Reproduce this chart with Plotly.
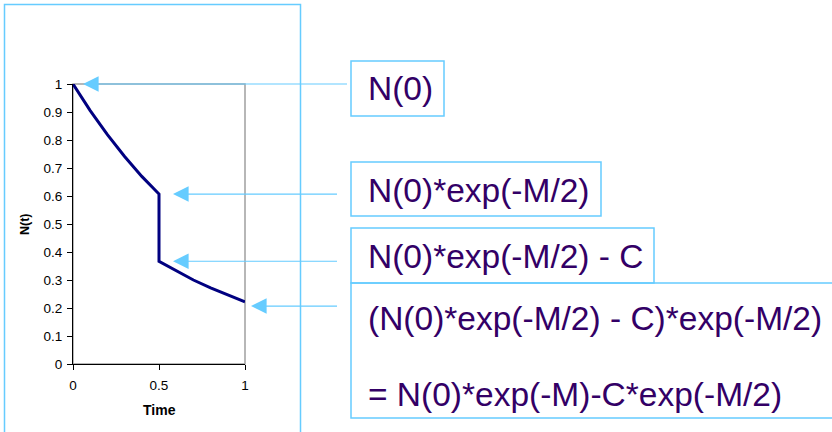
import plotly.graph_objects as go

# dados da curva N(t)
tempo = [0, 0.1, 0.2, 0.3, 0.4, 0.5, 0.5, 0.6, 0.7, 0.8, 0.9, 1.0]
n_t = [1.0, 0.905, 0.819, 0.741, 0.670, 0.607, 0.367, 0.332, 0.300, 0.272, 0.246, 0.222]

# textos das caixas e valores apontados pelas setas
textos = [
    "N(0)",
    "N(0)*exp(-M/2)",
    "N(0)*exp(-M/2) - C",
    "(N(0)*exp(-M/2) - C)*exp(-M/2)",
    "= N(0)*exp(-M)-C*exp(-M/2)",
]
seta_y = [1.0, 0.607, 0.367, 0.207]

W, H = 832, 432
AZUL = "#66CCFF"
ROXO = "#330066"


def px(x):
    return x / W


def py(y):
    return 1 - y / H


fig = go.Figure()

fig.add_trace(go.Scatter(
    x=tempo, y=n_t, mode="lines",
    line=dict(color="#000080", width=3),
    showlegend=False, hoverinfo="skip",
))

fig.update_layout(
    width=W, height=H,
    margin=dict(l=0, r=0, t=0, b=0, autoexpand=False),
    paper_bgcolor="white", plot_bgcolor="white",
    showlegend=False,
    font=dict(family="Arial, Liberation Sans", color="black"),
    xaxis=dict(
        domain=[px(73), px(245)], range=[0, 1], automargin=False,
        tickvals=[0, 0.5, 1], ticktext=["0", "0.5", "1"],
        showgrid=False, zeroline=False,
        showline=True, linecolor="black", linewidth=1,
        ticks="outside", ticklen=5, tickcolor="black",
        ticklabelstandoff=4, tickfont=dict(size=13.5),
    ),
    yaxis=dict(
        domain=[py(364), py(84)], range=[0, 1], automargin=False,
        dtick=0.1, showgrid=False, zeroline=False,
        showline=True, linecolor="black", linewidth=1,
        ticks="outside", ticklen=5, tickcolor="black",
        ticklabelstandoff=2, tickfont=dict(size=13.5),
    ),
)

# borda cinza da área do gráfico
fig.add_shape(type="rect", xref="x domain", yref="y domain",
              x0=0, x1=1, y0=0, y1=1, layer="below",
              line=dict(color="#A0A0A0", width=1.5))

# moldura azul do gráfico
fig.add_shape(type="rect", xref="paper", yref="paper",
              x0=px(4.5), x1=px(300.5), y0=-0.1, y1=py(4.5),
              line=dict(color=AZUL, width=1.5))

# títulos dos eixos
fig.add_annotation(text="<b>Time</b>", xref="paper", yref="paper",
                   x=px(159.5), y=py(410), xanchor="center", yanchor="middle",
                   showarrow=False, font=dict(size=14))
fig.add_annotation(text="<b>N(t)</b>", xref="paper", yref="paper",
                   x=px(25), y=py(224), xanchor="center", yanchor="middle",
                   showarrow=False, textangle=-90, font=dict(size=12.5))

# caixas de texto
caixas = [(351, 444, 61, 116), (351, 601, 162, 216),
          (351, 654, 228, 283), (351, 860, 283, 418)]
for x0, x1, y0, y1 in caixas:
    fig.add_shape(type="rect", xref="paper", yref="paper",
                  x0=px(x0), x1=px(x1), y0=py(y1), y1=py(y0),
                  line=dict(color=AZUL, width=1.5))

centros = [89, 190, 256, 318, 394]
for txt, cy in zip(textos, centros):
    fig.add_annotation(text=txt, xref="paper", yref="paper",
                       x=px(366), y=py(cy), xanchor="left", yanchor="middle",
                       align="left", showarrow=False,
                       font=dict(size=33.5, color=ROXO))

# setas (ponta em x, cauda deslocada em pixels)
pontas_x = [83, 173, 173, 251]
caudas_x = [350, 340, 340, 340]
for xp, xc, yv in zip(pontas_x, caudas_x, seta_y):
    fig.add_annotation(xref="paper", yref="y", x=px(xp), y=yv,
                       ax=xc - xp, ay=0, showarrow=True,
                       arrowhead=2, arrowwidth=1.2, arrowsize=2.6,
                       arrowcolor=AZUL)

# remove a margem padrão da página
fig.write_html("out.html", config={"displayModeBar": False},
               post_script="document.body.style.margin='0';")
